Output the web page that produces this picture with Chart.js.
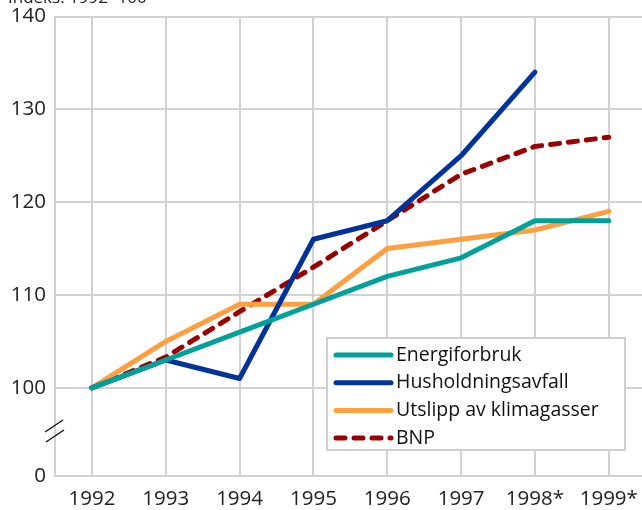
<!DOCTYPE html>
<html>
<head>
<meta charset="utf-8">
<script src="https://cdn.jsdelivr.net/npm/chart.js@4/dist/chart.umd.min.js"></script>
<style>
  html, body { margin: 0; padding: 0; background: #fff; overflow: hidden; }
  #wrap { width: 649px; height: 510px; position: relative; }
</style>
</head>
<body>
<div id="wrap"><canvas id="myChart"></canvas></div>
<script>
const aar = ['1992', '1993', '1994', '1995', '1996', '1997', '1998*', '1999*'];
const energiforbruk = [100, 103, 106, 109, 112, 114, 118, 118];
const husholdningsavfall = [100, 103, 101, 116, 118, 125, 134, null];
const utslipp = [100, 105, 109, 109, 115, 116, 117, 119];
const bnp = [100, 103.3, 108.2, 113, 118, 123, 126, 127];
const yTicks = [100, 110, 120, 130, 140];
const NULL_POS = 90.5; // hvor "0" tegnes under bruddet

const FONT = '"Open Sans", "Noto Sans", sans-serif';

// Tittel, bruddstrek og legende inne i plottet
const extras = {
  id: 'extras',
  afterDraw(chart) {
    const c = chart.ctx;
    const area = chart.chartArea;
    c.save();
    c.fillStyle = '#222';
    c.font = '17px ' + FONT;
    c.textBaseline = 'alphabetic';
    c.fillText('Indeks. 1992=100', 8, 3);

    // bruddstrek på y-aksen
    c.strokeStyle = '#111';
    c.lineWidth = 1.4;
    c.beginPath();
    c.moveTo(area.left - 10, 432); c.lineTo(area.left + 8, 420);
    c.moveTo(area.left - 9, 442); c.lineTo(area.left + 9, 430);
    c.stroke();

    // legende
    const bx = 327, by = 338, bw = 298, bh = 112;
    c.fillStyle = '#fff';
    c.fillRect(bx, by, bw, bh);
    c.strokeStyle = '#cfcfcf';
    c.lineWidth = 2;
    c.strokeRect(bx, by, bw, bh);
    c.font = '19.5px ' + FONT;
    c.textBaseline = 'middle';
    chart.data.datasets.forEach((ds, i) => {
      const y = by + 17 + i * 27.7;
      c.strokeStyle = ds.borderColor;
      c.lineWidth = 5;
      c.lineCap = 'round';
      c.setLineDash(ds.borderDash || []);
      c.beginPath();
      c.moveTo(bx + 9, y);
      c.lineTo(bx + 64, y);
      c.stroke();
      c.setLineDash([]);
      c.fillStyle = '#111';
      c.fillText(ds.label, bx + 69, y);
    });
    c.restore();
  }
};

const ctx = document.getElementById('myChart').getContext('2d');
new Chart(ctx, {
  type: 'line',
  data: {
    labels: aar,
    datasets: [
      { label: 'Energiforbruk', data: energiforbruk, borderColor: '#00a19b' },
      { label: 'Husholdningsavfall', data: husholdningsavfall, borderColor: '#003399' },
      { label: 'Utslipp av klimagasser', data: utslipp, borderColor: '#ff9f40' },
      { label: 'BNP', data: bnp, borderColor: '#990000', borderDash: [9, 9], borderCapStyle: 'round' }
    ].map(ds => Object.assign({
      borderWidth: 5,
      pointRadius: 0,
      fill: false,
      tension: 0,
      borderJoinStyle: 'round',
      borderCapStyle: 'round',
      spanGaps: false
    }, ds))
  },
  options: {
    responsive: true,
    maintainAspectRatio: false,
    animation: false,
    layout: { padding: { top: 16.5, right: 2, left: 0, bottom: 0 } },
    plugins: {
      legend: { display: false },
      tooltip: { enabled: false }
    },
    scales: {
      x: {
        offset: true,
        grid: { color: '#d2d2d2', lineWidth: 2, drawTicks: false, offset: false },
        border: { color: '#d2d2d2', width: 2 },
        ticks: { color: '#222', font: { family: FONT, size: 20.5 }, padding: 11, maxRotation: 0 },
        afterFit: s => { s.height = 34; }
      },
      y: {
        min: NULL_POS,
        max: 140,
        afterBuildTicks: s => { s.ticks = [NULL_POS, ...yTicks].map(v => ({ value: v })); },
        grid: {
          color: ctx => ctx.tick && ctx.tick.value === NULL_POS ? 'rgba(0,0,0,0)' : '#d2d2d2',
          lineWidth: 2,
          drawTicks: false
        },
        border: { color: '#d2d2d2', width: 2 },
        ticks: {
          color: '#222',
          font: { family: FONT, size: 20.5, lineHeight: 1 },
          padding: 9,
          callback: v => v === NULL_POS ? '0' : String(v)
        },
        afterFit: s => { s.width = 55; s.paddingTop = 0; }
      }
    }
  },
  plugins: [extras]
});
</script>
</body>
</html>
